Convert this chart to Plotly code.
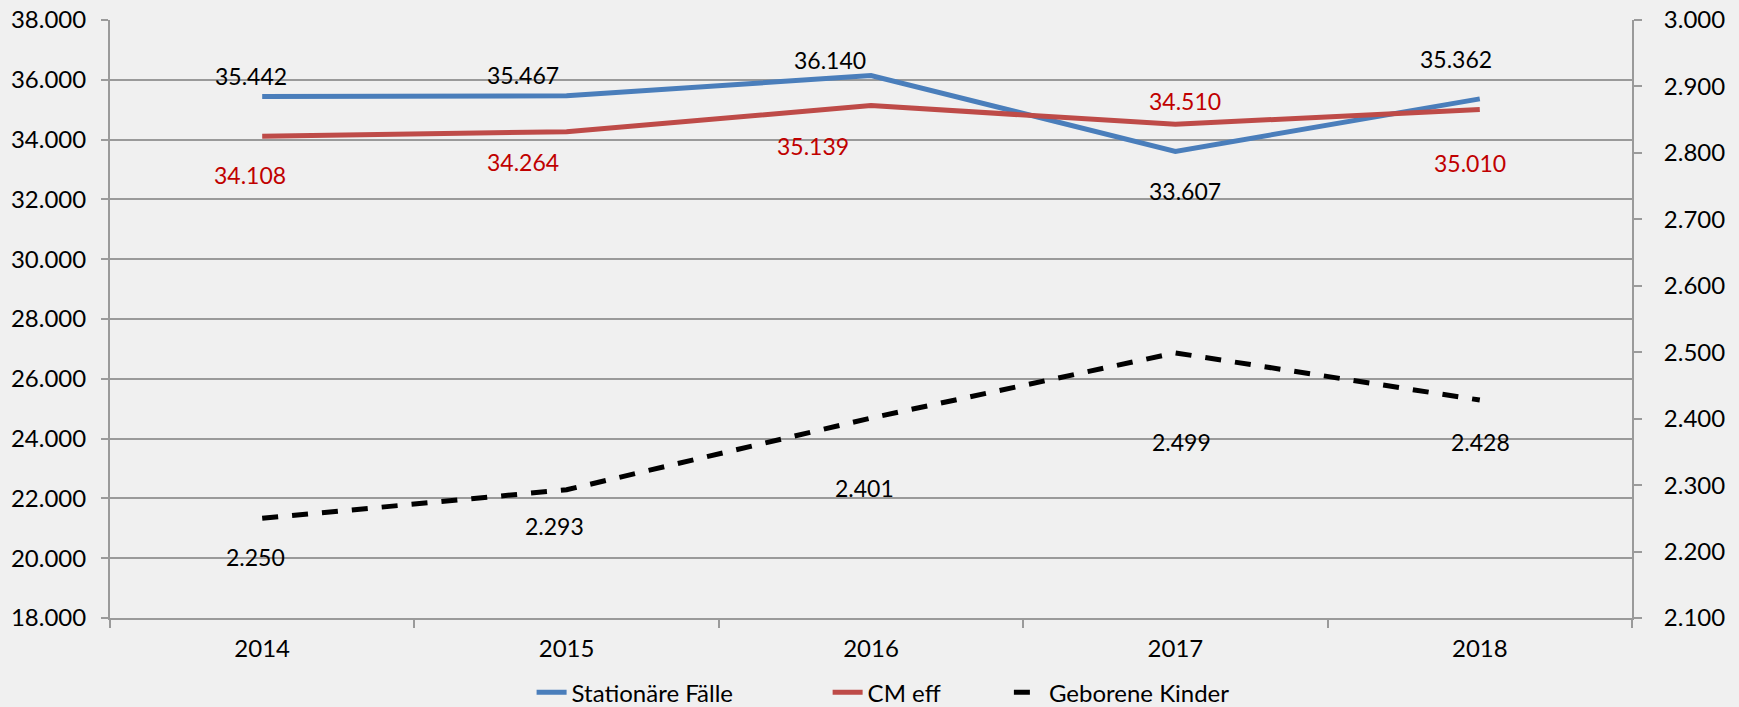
import plotly.graph_objects as go

# data
years = ["2014", "2015", "2016", "2017", "2018"]
stationaere_faelle = [35442, 35467, 36140, 33607, 35362]
cm_eff = [34108, 34264, 35139, 34510, 35010]
geborene_kinder = [2250, 2293, 2401, 2499, 2428]

# label nudges (px) to mimic the hand-placed Excel data labels
sf_shift = [(-11, 20), (-44, 21), (-41, 16), (10, -40), (-24, 40)]
cm_shift = [(-12, -39), (-44, -30), (-58, -40), (10, 23), (-10, -54)]
gk_shift = [(-7, -39), (-12, -36), (-7, -70), (6, -89), (1, -42)]

FONT = "Lato, 'Open Sans', sans-serif"
BLUE = "#4a7ebb"
RED = "#be4b48"
LABEL_RED = "#c00000"
GRID = "#9a9a9a"


def de(v):
    return f"{v:,}".replace(",", ".")


fig = go.Figure()
fig.add_trace(go.Scatter(x=years, y=stationaere_faelle, name="Stationäre Fälle", mode="lines",
                         line=dict(color=BLUE, width=5), legend="legend"))
fig.add_trace(go.Scatter(x=years, y=cm_eff, name="CM eff", mode="lines",
                         line=dict(color=RED, width=5), legend="legend2"))
fig.add_trace(go.Scatter(x=years, y=geborene_kinder, name="Geborene Kinder", mode="lines",
                         yaxis="y2", line=dict(color="black", width=5, dash="16px,14px"),
                         legend="legend3"))

annotations = []
for vals, shifts, color, yref in [(stationaere_faelle, sf_shift, "black", "y"),
                                  (cm_eff, cm_shift, LABEL_RED, "y"),
                                  (geborene_kinder, gk_shift, "black", "y2")]:
    for i, (v, (dx, dy)) in enumerate(zip(vals, shifts)):
        annotations.append(dict(x=i, y=v, xref="x", yref=yref, text=de(v), showarrow=False,
                                xshift=dx, yshift=dy,
                                font=dict(color=color, size=23, family=FONT)))

leg = dict(orientation="h", xanchor="left", y=-0.125, yanchor="middle",
           font=dict(size=24), bgcolor="rgba(0,0,0,0)")

fig.update_layout(
    width=1739, height=707,
    margin=dict(l=110, r=107, t=20, b=89, autoexpand=False),
    paper_bgcolor="#f0f0f0", plot_bgcolor="#f0f0f0",
    separators=",.",
    font=dict(family=FONT, size=24, color="black"),
    annotations=annotations,
    showlegend=True,
    legend=dict(leg, x=0.277),
    legend2=dict(leg, x=0.4715),
    legend3=dict(leg, x=0.5906),
    xaxis=dict(type="category", range=[-0.5, 4.5], tickson="boundaries", ticks="outside",
               ticklen=8, tickwidth=2, tickcolor=GRID, showgrid=False, showline=True,
               linecolor=GRID, linewidth=2, zeroline=False, ticklabelstandoff=8,
               automargin=False),
    yaxis=dict(range=[18000, 38000], dtick=2000, tickformat=",d", ticks="outside",
               ticklen=7, tickwidth=2, tickcolor=GRID, showgrid=True, gridcolor=GRID,
               gridwidth=1.5, showline=True, linecolor=GRID, linewidth=2, zeroline=False,
               ticklabelstandoff=10, automargin=False),
    yaxis2=dict(range=[2100, 3000], dtick=100, tickformat=",d", overlaying="y", side="right",
                ticks="outside", ticklen=8, tickwidth=2, tickcolor=GRID, showgrid=False,
                showline=True, linecolor=GRID, linewidth=2, zeroline=False,
                ticklabelstandoff=17, automargin=False),
)

# drop the default body margin so the 1739x707 figure fills the window exactly
fig.write_html("out.html", config={"displayModeBar": False},
               post_script="document.body.style.margin='0';")
